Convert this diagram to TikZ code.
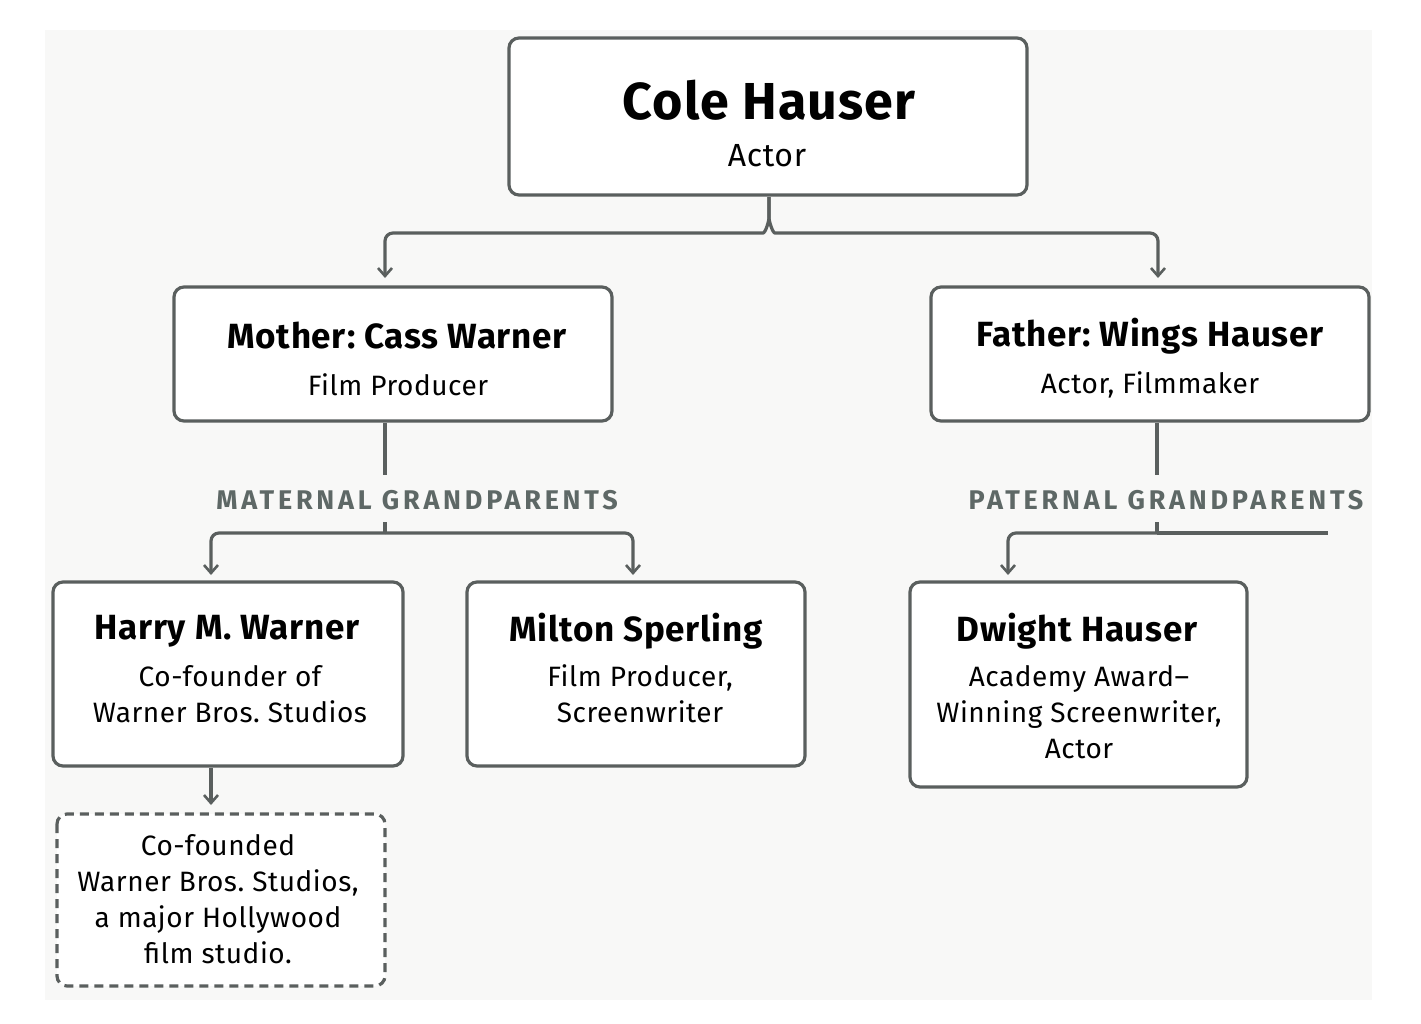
\documentclass[tikz,border=0pt]{standalone}
\usepackage{fontspec}
\setmainfont{Fira Sans}
\usetikzlibrary{arrows.meta}
\definecolor{ln}{HTML}{5A5F5E}
\definecolor{lab}{HTML}{5E6866}
\definecolor{bg}{HTML}{F8F8F7}
\frenchspacing
\begin{document}
\begin{tikzpicture}[x=1pt,y=-1pt,
 box/.style={draw=ln,line width=3.2pt,rounded corners=10pt,fill=white},
 con/.style={draw=ln,line width=3.2pt,rounded corners=8pt},
 arr/.style={con,-{Straight Barb[length=8pt,width=14pt,line width=2.6pt]}},
 ttl/.style={font=\fontsize{35}{40}\selectfont\bfseries\addfontfeature{LetterSpace=2},text=black},
 sub/.style={font=\fontsize{28}{36}\selectfont\addfontfeature{LetterSpace=2},text=black,align=center},
 lbl/.style={font=\fontsize{27}{30}\selectfont\addfontfeature{LetterSpace=14}\bfseries,text=lab}]
\useasboundingbox (0,0) rectangle (1421,1023);
\fill[white] (0,0) rectangle (1421,1023);
\fill[bg] (45,30) rectangle (1372,1000);
% boxes
\draw[box] (509,38) rectangle (1027,195);
\node[font=\fontsize{52}{56}\selectfont\bfseries\addfontfeature{LetterSpace=2}] (cole) at (769,100) {Cole Hauser};
\node[font=\fontsize{32}{36}\selectfont\addfontfeature{LetterSpace=2}] (colea) at (767,156) {Actor};
\draw[box] (174,287) rectangle (612,421);
\node[ttl] (mom) at (397,336) {Mother: Cass Warner};
\node[sub] (moms) at (398,385) {Film Producer};
\draw[box] (931,287) rectangle (1369,421);
\node[ttl] (dad) at (1150,336) {Father: Wings Hauser};
\node[sub] (dads) at (1150,385) {Actor, Filmmaker};
\draw[box] (53,582) rectangle (403,766);
\node[ttl] (harry) at (227,631) {Harry M. Warner};
\node[sub] (harrys) at (230,694) {Co-founder of\\Warner Bros. Studios};
\draw[box] (467,582) rectangle (805,766);
\node[ttl] (milton) at (636,631) {Milton Sperling};
\node[sub] (miltons) at (640,694) {Film Producer,\\Screenwriter};
\draw[box] (910,582) rectangle (1247,787);
\node[ttl] (dwight) at (1077,631) {Dwight Hauser};
\node[sub] (dwights) at (1079,712) {Academy Award–\\Winning Screenwriter,\\Actor};
\draw[box,dash pattern=on 9pt off 6pt] (57,814) rectangle (385,986);
\node[sub] (note) at (218,899) {Co-founded\\Warner Bros. Studios,\\a major Hollywood\\film studio.};
% connectors
\coordinate (c0) at (769,197);
\draw[arr] (c0) -- (769,210) to[out=-90,in=0] (755,233) -- (385,233) -- (385,278);
\draw[arr] (c0) -- (769,210) to[out=-90,in=180] (783,233) -- (1158,233) -- (1158,278);
\node[lbl] (mg) at (417,500) {MATERNAL GRANDPARENTS};
\node[lbl] (pg) at (1166,500) {PATERNAL GRANDPARENTS};
\draw[con] (385,423) -- (385,475);
\draw[con] (385,522) -- (385,533);
\draw[arr] (385,533) -- (211,533) -- (211,575);
\draw[arr] (385,533) -- (633,533) -- (633,575);
\draw[con] (1157,423) -- (1157,475);
\draw[con] (1157,522) -- (1157,533);
\draw[con] (1157,533) -- (1328,533);
\draw[arr] (1157,533) -- (1008,533) -- (1008,575);
\draw[arr] (211,768) -- (211,805);
\end{tikzpicture}
\end{document}
